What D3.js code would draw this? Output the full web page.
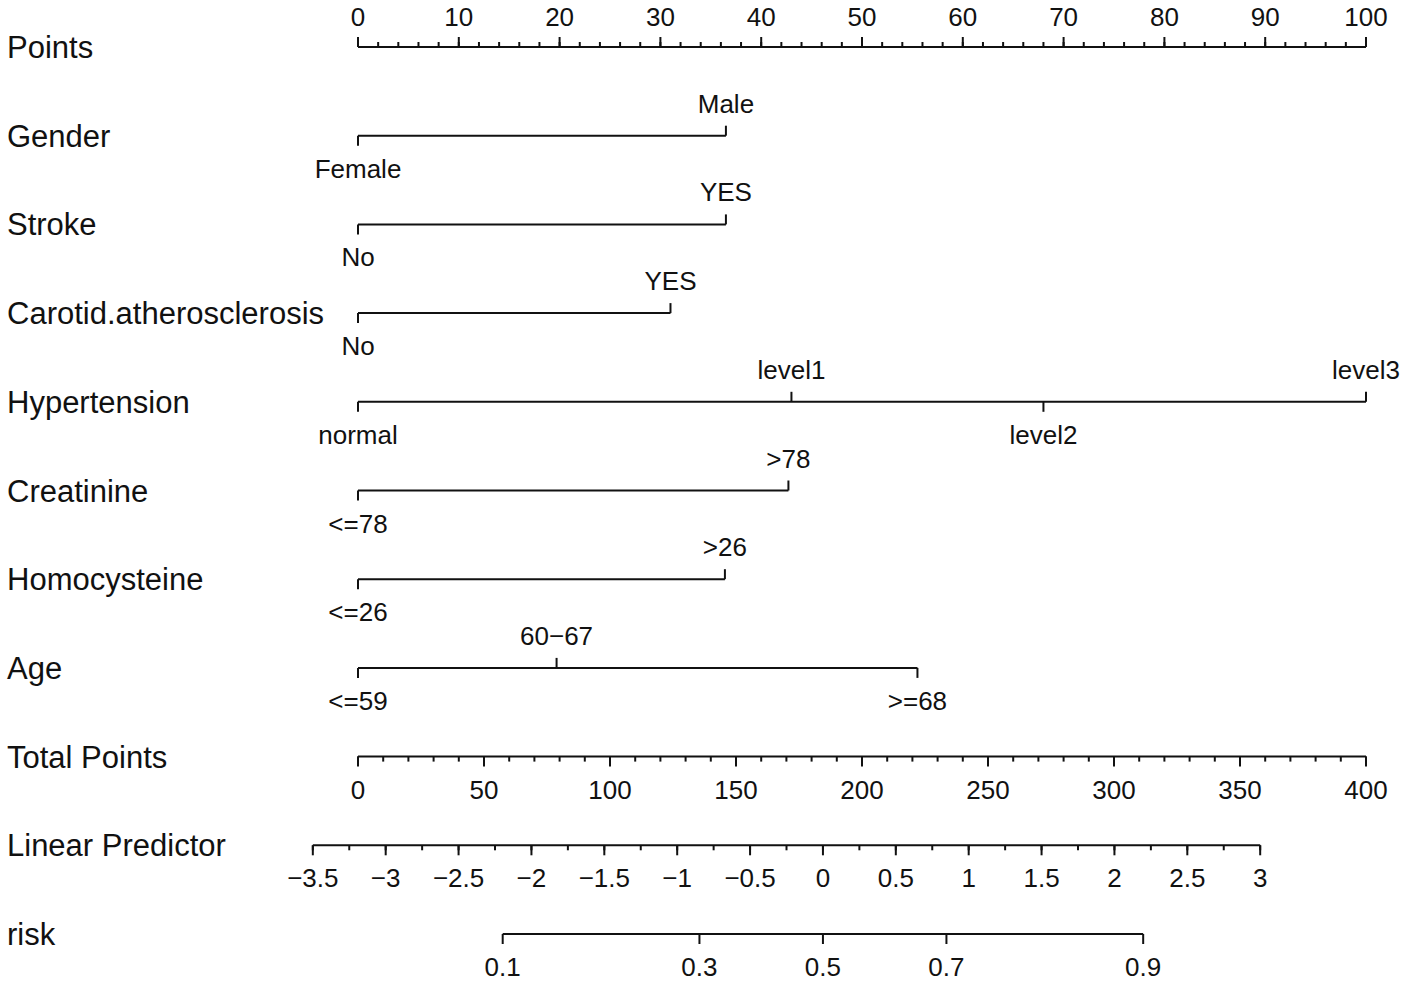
<!DOCTYPE html>
<html>
<head>
<meta charset="utf-8">
<script src="https://cdn.jsdelivr.net/npm/d3@7.9.0/dist/d3.min.js"></script>
<style>
  body { margin: 0; background: #fff; }
  text { font-family: "Liberation Sans", Arial, Helvetica, sans-serif; fill: #111; }
</style>
</head>
<body>
<svg id="chart" width="1406" height="982"></svg>
<script>
// rows of the nomogram, top to bottom
const rowNames = ['Points', 'Gender', 'Stroke', 'Carotid.atherosclerosis', 'Hypertension',
  'Creatinine', 'Homocysteine', 'Age', 'Total Points', 'Linear Predictor', 'risk'];

// predictor levels and the points each one scores
const genderLevels = ['Female', 'Male'];
const genderPoints = [0, 36.5];
const strokeLevels = ['No', 'YES'];
const strokePoints = [0, 36.5];
const carotidLevels = ['No', 'YES'];
const carotidPoints = [0, 31];
const hyperLevels = ['normal', 'level1', 'level2', 'level3'];
const hyperPoints = [0, 43, 68, 100];
const creatLevels = ['<=78', '>78'];
const creatPoints = [0, 42.7];
const homoLevels = ['<=26', '>26'];
const homoPoints = [0, 36.4];
const ageLevels = ['<=59', '60\u221267', '>=68'];
const agePoints = [0, 19.7, 55.5];

// axis ticks
const pointsMajor = d3.range(0, 101, 10);
const pointsMinor = d3.range(0, 101, 2);
const totalMajor = d3.range(0, 401, 50);
const totalMinor = d3.range(0, 401, 10);
const lpMajor = d3.range(-3.5, 3.01, 0.5);
const lpMinor = d3.range(-3.5, 3.01, 0.25);
const riskTicks = [0.1, 0.3, 0.5, 0.7, 0.9];

// linear predictor = lpIntercept + lpSlope * total points
const lpIntercept = -3.19;
const lpSlope = 0.01729;

const svg = d3.select('#chart');
const left = 358, right = 1366;

const pointsScale = d3.scaleLinear().domain([0, 100]).range([left, right]);
const totalScale = d3.scaleLinear().domain([0, 400]).range([left, right]);
const yScale = d3.scalePoint().domain(rowNames).range([47, 934]);

const lpToX = (lp) => totalScale((lp - lpIntercept) / lpSlope);
const lpScale = d3.scaleLinear().domain([-3.5, 3]).range([lpToX(-3.5), lpToX(3)]);
const logit = (p) => Math.log(p / (1 - p));

const labelSize = 31;
const tickSize = 26;

// row titles
svg.append('g')
  .selectAll('text')
  .data(rowNames)
  .join('text')
  .attr('x', 7)
  .attr('y', (d) => yScale(d) + 11)
  .attr('font-size', labelSize)
  .text((d) => d);

function drawScale(name, scale, major, minor, fmt, up) {
  const y = yScale(name);
  const g = svg.append('g').attr('transform', `translate(0,${y})`);
  const dir = up ? -1 : 1;
  const [d0, d1] = scale.domain();
  g.append('line')
    .attr('x1', scale(d0)).attr('x2', scale(d1))
    .attr('stroke', '#111').attr('stroke-width', 2);
  g.selectAll('line.minor')
    .data(minor)
    .join('line')
    .attr('class', 'minor')
    .attr('x1', (d) => scale(d)).attr('x2', (d) => scale(d))
    .attr('y1', 0).attr('y2', dir * 5)
    .attr('stroke', '#111').attr('stroke-width', 2);
  g.selectAll('line.major')
    .data(major)
    .join('line')
    .attr('class', 'major')
    .attr('x1', (d) => scale(d)).attr('x2', (d) => scale(d))
    .attr('y1', 0).attr('y2', dir * 10)
    .attr('stroke', '#111').attr('stroke-width', 2);
  g.selectAll('text')
    .data(major)
    .join('text')
    .attr('x', (d) => scale(d))
    .attr('y', up ? -21 : 42)
    .attr('text-anchor', 'middle')
    .attr('font-size', tickSize)
    .text(fmt);
}

drawScale('Points', pointsScale, pointsMajor, pointsMinor, d3.format('d'), true);
drawScale('Total Points', totalScale, totalMajor, totalMinor, d3.format('d'), false);
drawScale('Linear Predictor', lpScale, lpMajor, lpMinor, d3.format('~g'), false);

// risk axis on the logit scale
const riskScale = (p) => lpScale(logit(p));
{
  const y = yScale('risk');
  const g = svg.append('g').attr('transform', `translate(0,${y})`);
  g.append('line')
    .attr('x1', riskScale(riskTicks[0])).attr('x2', riskScale(riskTicks[riskTicks.length - 1]))
    .attr('stroke', '#111').attr('stroke-width', 2);
  g.selectAll('line.tick')
    .data(riskTicks)
    .join('line')
    .attr('class', 'tick')
    .attr('x1', (d) => riskScale(d)).attr('x2', (d) => riskScale(d))
    .attr('y1', 0).attr('y2', 10)
    .attr('stroke', '#111').attr('stroke-width', 2);
  g.selectAll('text')
    .data(riskTicks)
    .join('text')
    .attr('x', (d) => riskScale(d))
    .attr('y', 42)
    .attr('text-anchor', 'middle')
    .attr('font-size', tickSize)
    .text((d) => d3.format('.1f')(d));
}

// categorical predictor rows: labels alternate below / above the line
function drawFactor(name, levels, points) {
  const y = yScale(name);
  const g = svg.append('g').attr('transform', `translate(0,${y})`);
  const items = levels.map((l, i) => ({ label: l, pts: points[i], up: i % 2 === 1 }));
  g.append('line')
    .attr('x1', pointsScale(d3.min(points))).attr('x2', pointsScale(d3.max(points)))
    .attr('stroke', '#111').attr('stroke-width', 2);
  g.selectAll('line.tick')
    .data(items)
    .join('line')
    .attr('class', 'tick')
    .attr('x1', (d) => pointsScale(d.pts)).attr('x2', (d) => pointsScale(d.pts))
    .attr('y1', 0).attr('y2', (d) => (d.up ? -10 : 10))
    .attr('stroke', '#111').attr('stroke-width', 2);
  g.selectAll('text')
    .data(items)
    .join('text')
    .attr('x', (d) => pointsScale(d.pts))
    .attr('y', (d) => (d.up ? -23 : 42))
    .attr('text-anchor', 'middle')
    .attr('font-size', tickSize)
    .text((d) => d.label);
}

drawFactor('Gender', genderLevels, genderPoints);
drawFactor('Stroke', strokeLevels, strokePoints);
drawFactor('Carotid.atherosclerosis', carotidLevels, carotidPoints);
drawFactor('Hypertension', hyperLevels, hyperPoints);
drawFactor('Creatinine', creatLevels, creatPoints);
drawFactor('Homocysteine', homoLevels, homoPoints);
drawFactor('Age', ageLevels, agePoints);
</script>
</body>
</html>
